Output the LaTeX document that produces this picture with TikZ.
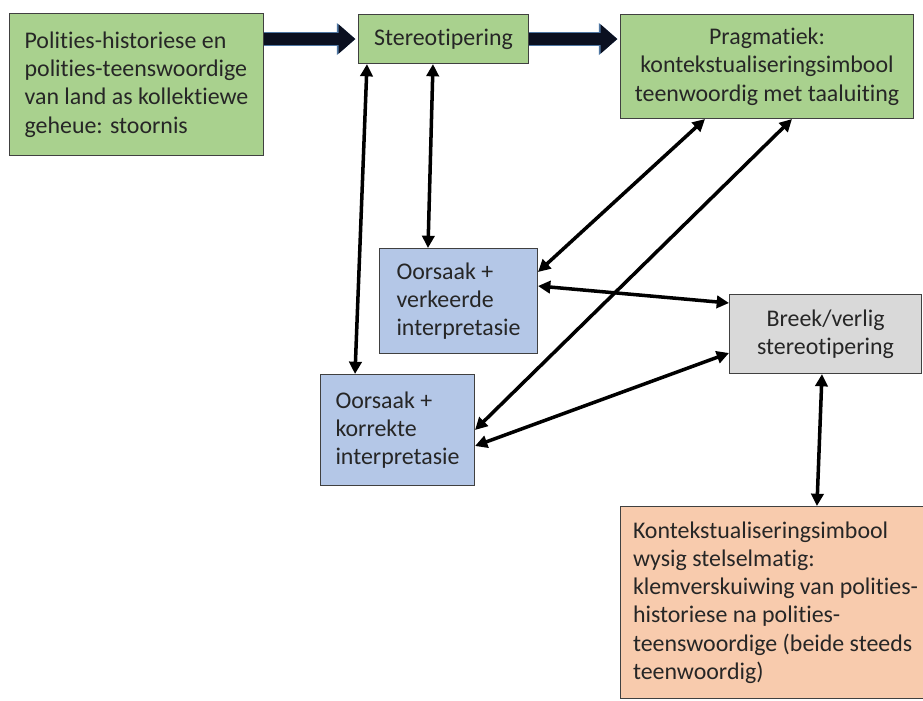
\documentclass[tikz,border=0pt]{standalone}
\usepackage{fontspec}
\setmainfont{Carlito}[Ligatures=NoCommon]
\usepackage{xcolor}
\usepackage{tikz}
\usetikzlibrary{arrows.meta}

\definecolor{boxgreen}{HTML}{A9D18E}
\definecolor{boxblue}{HTML}{B4C7E7}
\definecolor{boxgray}{HTML}{D9D9D9}
\definecolor{boxorange}{HTML}{F8CBAD}
\definecolor{boxline}{HTML}{404040}
\definecolor{arrowdark}{HTML}{0B1020}
\definecolor{arrowedge}{HTML}{4F77A3}

\tikzset{
  box/.style={draw=boxline, line width=0.6pt, inner sep=0pt, anchor=north west,
    font=\fontsize{13.6}{16.1}\selectfont, text=black!85},
  greenbox/.style={box, fill=boxgreen},
  bluebox/.style={box, fill=boxblue},
  graybox/.style={box, fill=boxgray},
  orangebox/.style={box, fill=boxorange},
  bigarrow/.style={line width=7.2pt, draw=arrowdark, shorten >=1.5pt,
    -{Triangle[length=9.5pt,width=16pt]},
    preaction={draw=arrowedge, line width=8.4pt, -{Triangle[length=10.5pt,width=17.5pt]}}},
  link/.style={line width=2pt, {Triangle[length=7pt,width=7pt]}-{Triangle[length=7pt,width=7pt]}}
}

\begin{document}
\begin{tikzpicture}[x=0.02cm, y=-0.02cm]
\useasboundingbox (0,0) rectangle (923,700);

\node[greenbox, minimum width=5.08cm, minimum height=2.84cm, align=left] (hist) at (9,13)
  {Polities-historiese en\\polities-teenswoordige\\van land as kollektiewe\\geheue: stoornis};
\node[greenbox, minimum width=3.4cm, minimum height=0.98cm] (stereo) at (358,14) {Stereotipering};
\node[greenbox, minimum width=5.86cm, minimum height=2.08cm, align=center] (prag) at (620,14)
  {Pragmatiek:\\kontekstualiseringsimbool\\teenwoordig met taaluiting};
\node[bluebox, minimum width=3.16cm, minimum height=2.1cm, align=left] (verk) at (379,248)
  {Oorsaak +\\verkeerde\\interpretasie};
\node[bluebox, minimum width=3.08cm, minimum height=2.22cm, align=left] (korr) at (320,374)
  {Oorsaak +\\korrekte\\interpretasie};
\node[graybox, minimum width=3.84cm, minimum height=1.58cm, align=center] (breek) at (729,294)
  {Breek/verlig\\stereotipering};
\node[orangebox, minimum width=6.2cm, minimum height=3.84cm, align=left] (kont) at (620,506)
  {Kontekstualiseringsimbool\\wysig stelselmatig:\\klemverskuiwing van polities-\\historiese na polities-\\teenswoordige (beide steeds\\teenwoordig)};

\draw[bigarrow] (hist.east |- stereo.west) -- (stereo.west);
\draw[bigarrow] (stereo.east) -- (prag.west |- stereo.east);

\draw[link] ([xshift=0.18cm]stereo.south west) -- ([xshift=0.7cm]korr.north west);
\draw[link] ([xshift=1.5cm]stereo.south west) -- ([xshift=0.98cm]verk.north west);
\draw[link] ([xshift=1.7cm]prag.south west) -- ([yshift=-0.48cm]verk.north east);
\draw[link] ([xshift=3.44cm]prag.south west) -- ([yshift=-1.12cm]korr.north east);
\draw[link] ([yshift=-0.76cm]verk.north east) -- ([yshift=-0.18cm]breek.north west);
\draw[link] ([yshift=-1.44cm]korr.north east) -- ([yshift=-1.18cm]breek.north west);
\draw[link] ([xshift=1.86cm]breek.south west) -- ([xshift=3.94cm]kont.north west);
\end{tikzpicture}
\end{document}
